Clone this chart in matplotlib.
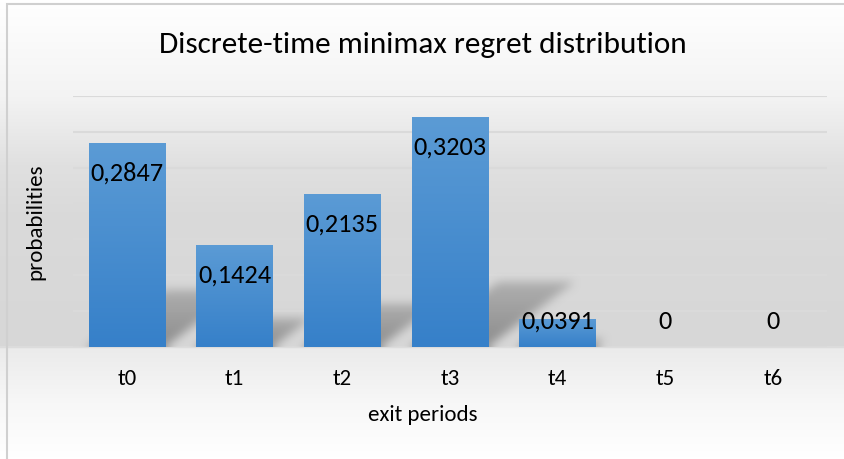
import numpy as np
import matplotlib.pyplot as plt
from matplotlib.colors import LinearSegmentedColormap
from matplotlib.patches import Rectangle

plt.rcParams['font.family'] = ['Carlito', 'Lato', 'DejaVu Sans']

# Data
categories = ['t0', 't1', 't2', 't3', 't4', 't5', 't6']
probabilities = [0.2847, 0.1424, 0.2135, 0.3203, 0.0391, 0.0, 0.0]
labels = ['0,2847', '0,1424', '0,2135', '0,3203', '0,0391', '0', '0']

fig = plt.figure(figsize=(8.45, 4.59), dpi=100)

# bakgrund: vit upptill, grå i mitten, ljusare under axeln
bg = fig.add_axes([0, 0, 1, 1], zorder=-10)
bg.set_axis_off()
bg_cmap = LinearSegmentedColormap.from_list('bg', [
    (0.0, '#ffffff'), (0.21, '#f3f3f3'), (0.29, '#e9e9e9'), (0.36, '#e0e0e0'),
    (0.46, '#dadada'), (0.755, '#d7d7d7'), (0.762, '#ebebeb'), (0.88, '#f7f7f7'),
    (1.0, '#ffffff')])
grad = np.linspace(0, 1, 459).reshape(-1, 1)
bg.imshow(grad, aspect='auto', cmap=bg_cmap, extent=[0, 1, 0, 1], origin='upper')
bg.set_xlim(0, 1)
bg.set_ylim(0, 1)
bg.add_patch(Rectangle((7 / 845, -0.01), 1.0, 1 - 4 / 459 + 0.01, fill=False,
                       edgecolor='#d0d0d0', linewidth=1.5))

ax = fig.add_axes([73 / 845, 1 - 347 / 459, 754 / 845, 251 / 459])
ax.patch.set_alpha(0)
x = np.arange(len(categories))
w = 0.71
xmin, xmax, ymax = -0.5, len(categories) - 0.5, 0.35

# stödlinjer
for g in np.arange(0.05, 0.351, 0.05):
    ax.axhline(g, color='#dadada', linewidth=1.5, zorder=0)
ax.axhline(0, color='#dadada', linewidth=1.5, zorder=0)

# mjuka skuggor bakom staplarna
nx, ny = 754, 251
gx = np.linspace(xmin, xmax, nx)
gy = np.linspace(0, ymax, ny)
X, Y = np.meshgrid(gx, gy)
mask = np.zeros_like(X)
for xi, v in zip(x, probabilities):
    if v <= 0:
        continue
    h = v * 0.28
    dx = v * 2.5
    t = Y / h
    left = xi - w / 2 + dx * t
    right = xi + w / 2 + dx * t
    inside = (t >= 0) & (t <= 1) & (X >= left) & (X <= right)
    mask = np.maximum(mask, inside * (1 - 0.45 * np.clip(t, 0, 1)))


def box_blur(a, r):
    for axis in (0, 1):
        pad = [(0, 0), (0, 0)]
        pad[axis] = (r, r)
        b = np.pad(a, pad, mode='edge')
        c = np.cumsum(b, axis=axis)
        c = np.insert(c, 0, 0, axis=axis)
        if axis == 0:
            a = (c[2 * r + 1:, :] - c[:-2 * r - 1, :]) / (2 * r + 1)
        else:
            a = (c[:, 2 * r + 1:] - c[:, :-2 * r - 1]) / (2 * r + 1)
    return a


for _ in range(3):
    mask = box_blur(mask, 4)
shadow = np.zeros((ny, nx, 4))
shadow[..., :3] = 0.5
shadow[..., 3] = np.clip(mask * 0.85, 0, 1)
ax.imshow(shadow, origin='lower', aspect='auto', extent=[xmin, xmax, 0, ymax],
          zorder=1, interpolation='bilinear')

# staplar med gradient
bar_cmap = LinearSegmentedColormap.from_list('bar', ['#3680c9', '#5b9bd5'])
bars = ax.bar(x, probabilities, width=w, color='none', zorder=2)
for b, v in zip(bars, probabilities):
    if v <= 0:
        continue
    im = ax.imshow(np.linspace(0, 1, 100).reshape(-1, 1), cmap=bar_cmap,
                   origin='lower', aspect='auto', zorder=2,
                   extent=[b.get_x(), b.get_x() + w, 0, v])
    im.set_clip_path(b)
ax.set_xlim(xmin, xmax)
ax.set_ylim(0, ymax)

# dataetiketter (innanför toppen)
for xi, v, lab in zip(x, probabilities, labels):
    y = max(v - 0.042, 0.036)
    ax.text(xi, y, lab, ha='center', va='center', fontsize=19, color='black', zorder=3)

ax.set_xticks(x)
ax.set_xticklabels(categories, fontsize=16.5)
ax.tick_params(axis='x', length=0, pad=16)
ax.set_yticks([])
for s in ax.spines.values():
    s.set_visible(False)

fig.text(0.5, 1 - 45 / 459, 'Discrete-time minimax regret distribution',
         ha='center', va='center', fontsize=22.5)
fig.text(0.5, 1 - 415 / 459, 'exit periods', ha='center', va='center', fontsize=16.5)
fig.text(35 / 845, 1 - 222 / 459, 'probabilities', ha='center', va='center',
         rotation=90, fontsize=16.5)

fig.savefig('out.png', dpi=100)
